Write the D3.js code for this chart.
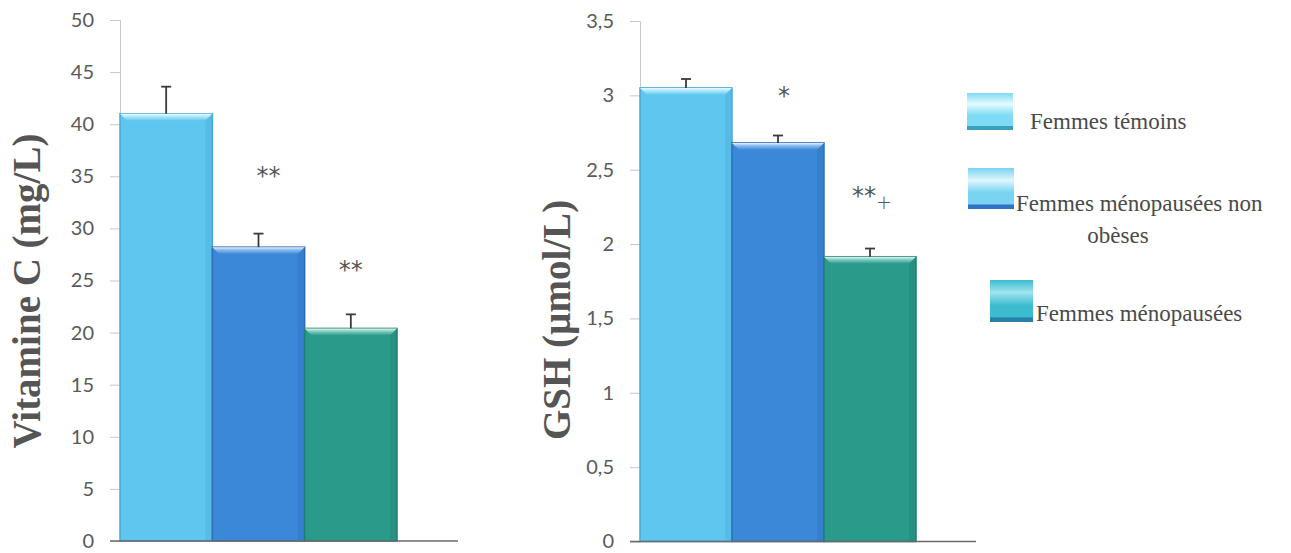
<!DOCTYPE html>
<html>
<head>
<meta charset="utf-8">
<script src="https://cdn.jsdelivr.net/npm/d3@7"></script>
<style>
  html, body { margin: 0; padding: 0; background: #ffffff; }
  svg { display: block; }
</style>
</head>
<body>
<svg id="chart" width="1291" height="553"></svg>
<script>
// Groups of women compared in both panels
const groups = ["Femmes témoins", "Femmes ménopausées non obèses", "Femmes ménopausées"];

// Vitamin C (mg/L): means, error (SEM) and significance marks
const vitCMeans = [41.0, 28.2, 20.4];
const vitCErrors = [2.6, 1.3, 1.35];
const vitCMarks = ["", "**", "**"];
const vitCTicks = [0, 5, 10, 15, 20, 25, 30, 35, 40, 45, 50];

// GSH (µmol/L): means, error (SEM) and significance marks
const gshMeans = [3.05, 2.68, 1.915];
const gshErrors = [0.06, 0.05, 0.055];
const gshMarks = ["", "*", "**+"];
const gshTicks = [0, 0.5, 1, 1.5, 2, 2.5, 3, 3.5];

const barColors = ["#5fc7ef", "#3b88d8", "#2a9b8b"];
const bevelColors = ["#b5ebfb", "#8fc0f0", "#8fd3c8"];
const edgeColors = ["#47a9d6", "#2c6fbd", "#1f7f72"];

const svg = d3.select("#chart");
const defs = svg.append("defs");

barColors.forEach((c, i) => {
  const g = defs.append("linearGradient")
    .attr("id", "bevel" + i).attr("x1", 0).attr("y1", 0).attr("x2", 0).attr("y2", 1);
  g.append("stop").attr("offset", "0%").attr("stop-color", "#ffffff").attr("stop-opacity", 0.9);
  g.append("stop").attr("offset", "35%").attr("stop-color", bevelColors[i]);
  g.append("stop").attr("offset", "100%").attr("stop-color", c);
});

function panel(cfg) {
  const g = svg.append("g").attr("transform", `translate(${cfg.left},${cfg.top})`);
  const h = cfg.height;

  const y = d3.scaleLinear().domain([0, cfg.max]).range([h, 0]);
  const x = d3.scaleBand().domain(groups).range([0, cfg.barsWidth]).padding(0);

  // Vertical axis with ticks pointing left
  const axis = d3.axisLeft(y).tickValues(cfg.ticks).tickSize(10).tickPadding(16)
    .tickFormat(cfg.format);
  const ag = g.append("g").call(axis);
  ag.select(".domain").attr("stroke", "#c8c8c8").attr("stroke-width", 1);
  ag.selectAll(".tick line").attr("stroke", "#c8c8c8");
  ag.selectAll(".tick text")
    .attr("fill", "#5a5a5a")
    .style("font-family", "Lato, 'Open Sans', sans-serif")
    .style("font-size", "20px");

  // Bars
  const bars = g.selectAll("g.bar").data(groups).join("g").attr("class", "bar");
  bars.append("rect")
    .attr("x", d => x(d))
    .attr("y", (d, i) => y(cfg.means[i]))
    .attr("width", x.bandwidth())
    .attr("height", (d, i) => h - y(cfg.means[i]))
    .attr("fill", (d, i) => barColors[i])
    .attr("stroke", (d, i) => edgeColors[i])
    .attr("stroke-width", 1.5);

  // Bevelled top of each bar
  const bev = 7;
  bars.append("path")
    .attr("d", (d, i) => {
      const x0 = x(d), x1 = x(d) + x.bandwidth(), t = y(cfg.means[i]);
      return `M${x0},${t} L${x1},${t} L${x1 - bev},${t + bev} L${x0 + bev},${t + bev} Z`;
    })
    .attr("fill", (d, i) => `url(#bevel${i})`);
  bars.append("path")
    .attr("d", (d, i) => {
      const x1 = x(d) + x.bandwidth(), t = y(cfg.means[i]);
      return `M${x1},${t} L${x1 - bev},${t + bev} L${x1 - bev},${h} L${x1},${h} Z`;
    })
    .attr("fill", (d, i) => edgeColors[i]).attr("opacity", 0.35);

  // Error bars (upper half only)
  const cap = 5;
  bars.append("line")
    .attr("x1", d => x(d) + x.bandwidth() / 2)
    .attr("x2", d => x(d) + x.bandwidth() / 2)
    .attr("y1", (d, i) => y(cfg.means[i]))
    .attr("y2", (d, i) => y(cfg.means[i] + cfg.errors[i]))
    .attr("stroke", "#3a3a3a").attr("stroke-width", 1.8);
  bars.append("line")
    .attr("x1", d => x(d) + x.bandwidth() / 2 - cap)
    .attr("x2", d => x(d) + x.bandwidth() / 2 + cap)
    .attr("y1", (d, i) => y(cfg.means[i] + cfg.errors[i]))
    .attr("y2", (d, i) => y(cfg.means[i] + cfg.errors[i]))
    .attr("stroke", "#3a3a3a").attr("stroke-width", 1.8);

  // Significance marks above bars
  bars.append("text")
    .attr("x", (d, i) => x(d) + x.bandwidth() / 2 + cfg.markDx[i])
    .attr("y", (d, i) => y(cfg.markAt[i]))
    .attr("text-anchor", "middle")
    .attr("fill", "#555555")
    .style("font-family", "'DejaVu Sans', sans-serif")
    .style("font-size", "24px")
    .each(function (d, i) {
      const t = d3.select(this);
      const m = cfg.marks[i];
      const stars = m.replace("+", "");
      t.append("tspan").text(stars);
      if (m.includes("+")) {
        t.append("tspan").text("+").attr("dy", 5).style("font-size", "19px").attr("font-weight", 300);
      }
    });

  // Baseline
  g.append("line")
    .attr("x1", -10).attr("x2", cfg.plotWidth)
    .attr("y1", h).attr("y2", h)
    .attr("stroke", "#6a6a6a").attr("stroke-width", 1.5);

  // Axis title
  g.append("text")
    .attr("transform", `translate(${cfg.titleX},${cfg.titleY}) rotate(-90)`)
    .attr("text-anchor", "middle")
    .attr("fill", "#555555")
    .style("font-family", "'Liberation Serif', 'Times New Roman', serif")
    .style("font-weight", "bold")
    .style("font-size", "39px")
    .text(cfg.title);
}

panel({
  left: 120, top: 20, height: 521, max: 50, barsWidth: 277, plotWidth: 338,
  ticks: vitCTicks, format: d => String(d),
  means: vitCMeans, errors: vitCErrors, marks: vitCMarks,
  markAt: [0, 34.3, 25.2], markDx: [0, 10, 0],
  title: "Vitamine C (mg/L)", titleX: -80, titleY: 271
});

panel({
  left: 640, top: 21, height: 520.5, max: 3.5, barsWidth: 276, plotWidth: 336,
  ticks: gshTicks, format: d => String(d).replace(".", ","),
  means: gshMeans, errors: gshErrors, marks: gshMarks,
  markAt: [0, 2.94, 2.27], markDx: [0, 6, 2],
  title: "GSH (µmol/L)", titleX: -70, titleY: 299
});

// Legend
const legendItems = [
  { sw: [967, 93, 46, 37], fill: ["#e6fbff", "#7fdaf3", "#3b9fc0"], lines: [{ t: "Femmes témoins", x: 1030, y: 129, anchor: "start" }] },
  { sw: [968, 168, 46, 41], fill: ["#e0f7ff", "#79d3f1", "#2f73c4"], lines: [
      { t: "Femmes ménopausées non", x: 1016, y: 211, anchor: "start" },
      { t: "obèses", x: 1118, y: 243, anchor: "middle" }] },
  { sw: [990, 280, 43, 42], fill: ["#9fe3ef", "#3cbdcf", "#2a7fa8"], lines: [{ t: "Femmes ménopausées", x: 1036, y: 321, anchor: "start" }] }
];

legendItems.forEach((it, i) => {
  const gr = defs.append("linearGradient").attr("id", "leg" + i)
    .attr("x1", 0).attr("y1", 0).attr("x2", 0).attr("y2", 1);
  gr.append("stop").attr("offset", "0%").attr("stop-color", it.fill[1]);
  gr.append("stop").attr("offset", "30%").attr("stop-color", it.fill[0]);
  gr.append("stop").attr("offset", "60%").attr("stop-color", it.fill[1]);
  gr.append("stop").attr("offset", "88%").attr("stop-color", it.fill[1]);
  gr.append("stop").attr("offset", "90%").attr("stop-color", it.fill[2]);
  gr.append("stop").attr("offset", "100%").attr("stop-color", it.fill[2]);
  const [sx, sy, sw, sh] = it.sw;
  svg.append("rect").attr("x", sx).attr("y", sy).attr("width", sw).attr("height", sh)
    .attr("fill", `url(#leg${i})`);
  it.lines.forEach(l => {
    svg.append("text").attr("x", l.x).attr("y", l.y)
      .attr("text-anchor", l.anchor)
      .attr("fill", "#4a4a4a")
      .style("font-family", "'Liberation Serif', 'Times New Roman', serif")
      .style("font-size", "23px")
      .text(l.t);
  });
});
</script>
</body>
</html>
